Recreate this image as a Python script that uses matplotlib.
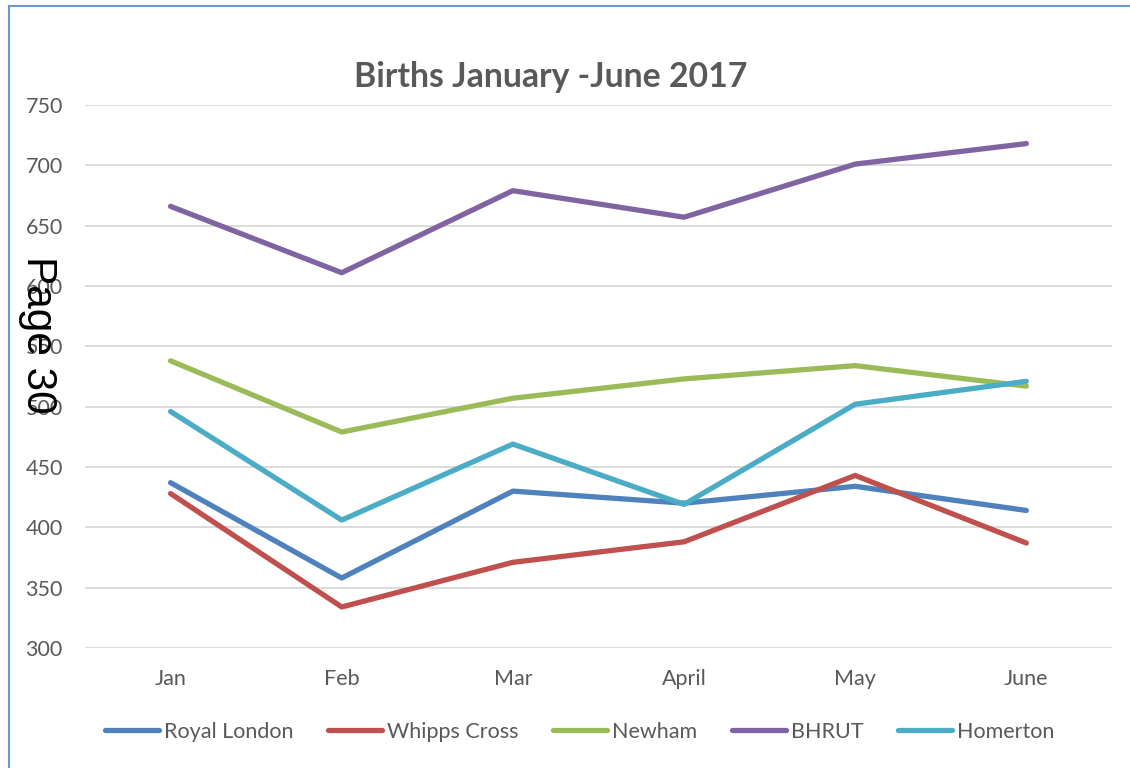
import matplotlib.pyplot as plt
from matplotlib.lines import Line2D

# Births per hospital, Jan-Jun 2017
months = ["Jan", "Feb", "Mar", "April", "May", "June"]
royal_london = [437, 358, 430, 420, 434, 414]
whipps_cross = [428, 334, 371, 388, 443, 387]
newham = [538, 479, 507, 523, 534, 517]
bhrut = [666, 611, 679, 657, 701, 718]
homerton = [496, 406, 469, 419, 502, 521]

series = [
    ("Royal London", royal_london, "#4f81bd"),
    ("Whipps Cross", whipps_cross, "#c0504d"),
    ("Newham", newham, "#9bbb59"),
    ("BHRUT", bhrut, "#8064a2"),
    ("Homerton", homerton, "#4bacc6"),
]

grey = "#595959"
font = "Lato"

fig = plt.figure(figsize=(11.3, 7.68), dpi=100)
ax = fig.add_axes([0.0752, 0.15625, 0.9088, 0.70705])

x = range(len(months))
for name, vals, col in series:
    ax.plot(x, vals, color=col, lw=3.8, label=name, solid_capstyle="round")

ax.set_xlim(-0.5, len(months) - 0.5)
ax.set_ylim(300, 750)
ax.set_yticks(range(300, 751, 50))
ax.set_xticks(list(x))
ax.set_xticklabels(months)
ax.grid(axis="y", color="#d9d9d9", lw=1.3)
ax.set_axisbelow(True)
for s in ax.spines.values():
    s.set_visible(False)
ax.tick_params(length=0, labelcolor=grey, labelsize=15.5)
ax.tick_params(axis="y", pad=16)
ax.tick_params(axis="x", pad=15)
for lbl in ax.get_xticklabels() + ax.get_yticklabels():
    lbl.set_family(font)

fig.text(0.487, 1 - 77 / 768, "Births January -June 2017", ha="center", va="center",
         fontsize=24.3, fontweight="bold", color=grey, family=font)

leg = fig.legend(loc="center", bbox_to_anchor=(0.513, 1 - 732 / 768), ncol=5,
                 frameon=False, handlelength=2.5, handletextpad=0.25,
                 columnspacing=1.6, prop={"family": font, "size": 15.5})
for t in leg.get_texts():
    t.set_color(grey)

# page frame lines
fig.add_artist(Line2D([9 / 1130, 9 / 1130], [0, 1 - 6 / 768], color="#6a98d4", lw=1.5))
fig.add_artist(Line2D([9 / 1130, 1], [1 - 6 / 768, 1 - 6 / 768], color="#6a98d4", lw=1.5))

fig.text(38 / 1130, 1 - 335 / 768, "Page 30", rotation=-90, ha="center", va="center",
         fontsize=30.5, color="black", family="Liberation Sans")

fig.savefig("out.png", dpi=100)
